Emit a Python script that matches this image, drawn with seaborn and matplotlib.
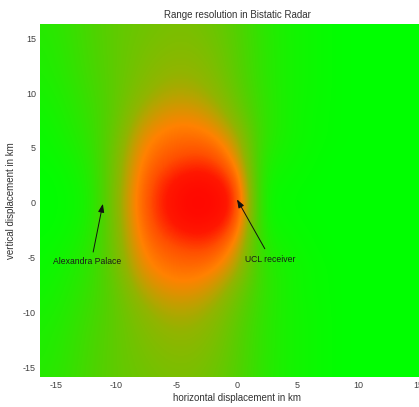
import numpy as np
import matplotlib
matplotlib.use("Agg")
import matplotlib.pyplot as plt
from matplotlib.colors import LinearSegmentedColormap
import seaborn as sns

# grid coordinates (km)
x_km = [-16, -14, -12, -10, -8, -6, -4, -2, 0, 2, 4, 6, 8, 10, 12, 14, 16]
y_km = [16, 14, 12, 10, 8, 6, 4, 2, 0, -2, -4, -6, -8, -10, -12, -14, -16]

# relative range-resolution level (0 = green, 1 = red), one row per y
row_p16 = [0.12, 0.16, 0.24, 0.30, 0.34, 0.37, 0.38, 0.34, 0.26, 0.14, 0.07, 0.04, 0.01, 0.0, 0.0, 0.0, 0.0]
row_p14 = [0.10, 0.15, 0.23, 0.30, 0.36, 0.40, 0.41, 0.37, 0.27, 0.15, 0.07, 0.04, 0.01, 0.0, 0.0, 0.0, 0.0]
row_p12 = [0.09, 0.14, 0.22, 0.30, 0.38, 0.44, 0.45, 0.40, 0.28, 0.15, 0.07, 0.04, 0.01, 0.0, 0.0, 0.0, 0.0]
row_p10 = [0.07, 0.12, 0.20, 0.30, 0.42, 0.50, 0.51, 0.45, 0.31, 0.16, 0.07, 0.04, 0.01, 0.0, 0.0, 0.0, 0.0]
row_p8 = [0.05, 0.10, 0.18, 0.31, 0.50, 0.60, 0.62, 0.55, 0.37, 0.17, 0.07, 0.03, 0.01, 0.0, 0.0, 0.0, 0.0]
row_p6 = [0.03, 0.08, 0.16, 0.34, 0.60, 0.69, 0.71, 0.68, 0.50, 0.16, 0.07, 0.03, 0.01, 0.0, 0.0, 0.0, 0.0]
row_p4 = [0.02, 0.05, 0.13, 0.38, 0.66, 0.76, 0.81, 0.81, 0.62, 0.11, 0.05, 0.02, 0.0, 0.0, 0.0, 0.0, 0.0]
row_p2 = [0.0, 0.03, 0.10, 0.40, 0.70, 0.86, 0.94, 0.93, 0.80, 0.06, 0.03, 0.01, 0.0, 0.0, 0.0, 0.0, 0.0]
row_0 = [0.0, 0.02, 0.08, 0.42, 0.72, 0.90, 0.97, 0.96, 0.90, 0.03, 0.02, 0.0, 0.0, 0.0, 0.0, 0.0, 0.0]
row_m2 = [0.0, 0.03, 0.10, 0.40, 0.70, 0.86, 0.94, 0.93, 0.80, 0.06, 0.03, 0.01, 0.0, 0.0, 0.0, 0.0, 0.0]
row_m4 = [0.02, 0.05, 0.13, 0.38, 0.66, 0.76, 0.81, 0.81, 0.62, 0.11, 0.05, 0.02, 0.0, 0.0, 0.0, 0.0, 0.0]
row_m6 = [0.03, 0.08, 0.16, 0.34, 0.60, 0.69, 0.71, 0.68, 0.50, 0.16, 0.07, 0.03, 0.01, 0.0, 0.0, 0.0, 0.0]
row_m8 = [0.05, 0.10, 0.18, 0.31, 0.50, 0.60, 0.62, 0.55, 0.37, 0.17, 0.07, 0.03, 0.01, 0.0, 0.0, 0.0, 0.0]
row_m10 = [0.07, 0.12, 0.20, 0.30, 0.42, 0.50, 0.51, 0.45, 0.31, 0.16, 0.07, 0.04, 0.01, 0.0, 0.0, 0.0, 0.0]
row_m12 = [0.09, 0.14, 0.22, 0.30, 0.38, 0.44, 0.45, 0.40, 0.28, 0.15, 0.07, 0.04, 0.01, 0.0, 0.0, 0.0, 0.0]
row_m14 = [0.10, 0.15, 0.23, 0.30, 0.36, 0.40, 0.41, 0.37, 0.27, 0.15, 0.07, 0.04, 0.01, 0.0, 0.0, 0.0, 0.0]
row_m16 = [0.12, 0.16, 0.24, 0.30, 0.34, 0.37, 0.38, 0.34, 0.26, 0.14, 0.07, 0.04, 0.01, 0.0, 0.0, 0.0, 0.0]

x_ticks = [-15, -10, -5, 0, 5, 10, 15]
y_ticks = [15, 10, 5, 0, -5, -10, -15]

transmitter_label = "Alexandra Palace"
receiver_label = "UCL receiver"

sns.set_style("white")
plt.rcParams["font.family"] = ["Liberation Sans", "DejaVu Sans"]
plt.rcParams["axes.unicode_minus"] = False

grid = np.array([row_p16, row_p14, row_p12, row_p10, row_p8, row_p6, row_p4, row_p2, row_0,
                 row_m2, row_m4, row_m6, row_m8, row_m10, row_m12, row_m14, row_m16])

cmap = LinearSegmentedColormap.from_list(
    "rg", [(0.0, "#00FF00"), (0.25, "#50D200"), (0.45, "#92B400"),
           (0.65, "#FF8200"), (0.78, "#FF5000"), (0.88, "#FF1800"), (1.0, "#FF0000")])
sns.set_palette([cmap(0.0), cmap(1.0)])

fig = plt.figure(figsize=(4.19, 4.07), dpi=100)
ax = fig.add_axes([40 / 419, 30 / 407, 394 / 419, 353 / 407])

dx = (x_km[1] - x_km[0]) / 2
dy = (y_km[0] - y_km[1]) / 2
ax.imshow(grid, cmap=cmap, vmin=0, vmax=1, interpolation="bicubic", interpolation_stage="data",
          extent=(x_km[0] - dx, x_km[-1] + dx, y_km[-1] - dy, y_km[0] + dy), aspect="auto", origin="upper")
ax.set_xlim(-16.3, 16.3)
ax.set_ylim(-15.9, 16.3)

ax.set_xticks(x_ticks)
ax.set_yticks(y_ticks)
ax.tick_params(length=0, labelsize=6.5, labelcolor="#404040", pad=3)
for s in ax.spines.values():
    s.set_visible(False)

ax.set_title("Range resolution in Bistatic Radar", fontsize=7, color="#333333", pad=4)
ax.set_xlabel("horizontal displacement in km", fontsize=7, color="#333333", labelpad=2)
ax.set_ylabel("vertical displacement in km", fontsize=7, color="#333333", labelpad=5)

arrow_kw = dict(arrowstyle="-|>,head_length=0.5,head_width=0.18", color="#111111", lw=0.7, shrinkA=0, shrinkB=0)
ax.annotate("", xy=(-11.1, -0.1), xytext=(-11.9, -4.5), arrowprops=arrow_kw)
ax.text(-15.2, -5.4, transmitter_label, fontsize=6.2, color="#1a1a1a", ha="left", va="center")
ax.annotate("", xy=(0.0, 0.3), xytext=(2.3, -4.2), arrowprops=arrow_kw)
ax.text(0.65, -5.2, receiver_label, fontsize=6.2, color="#1a1a1a", ha="left", va="center")

fig.savefig("out.png", dpi=100)
